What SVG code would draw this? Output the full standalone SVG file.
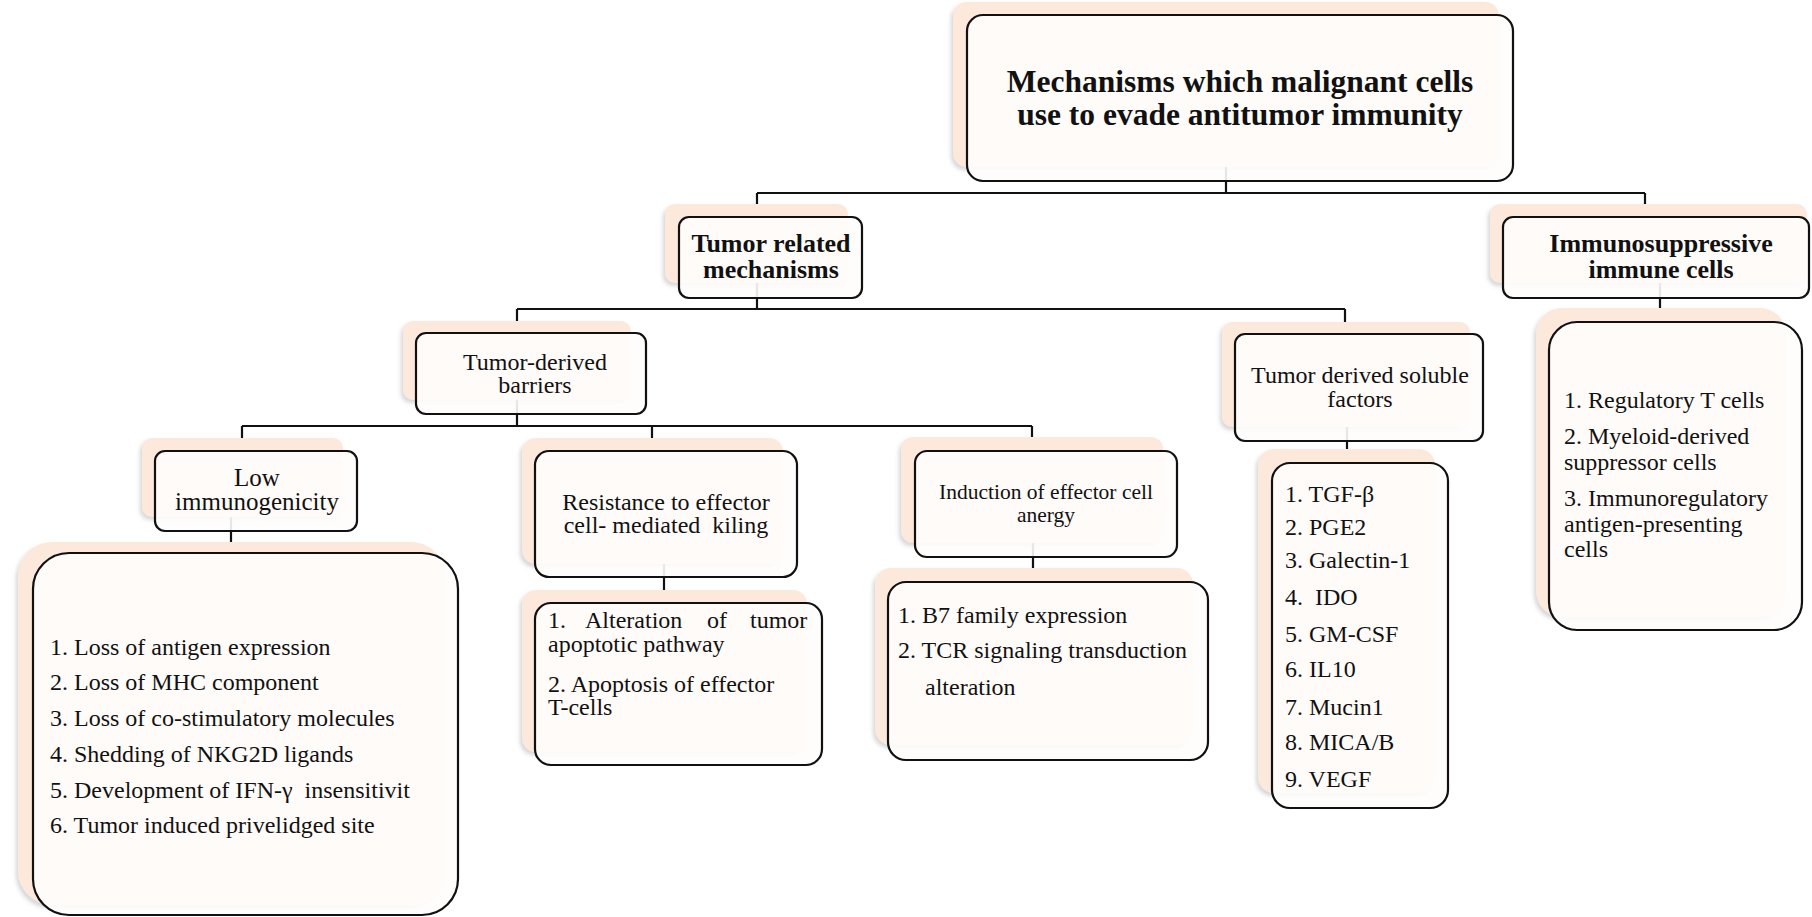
<svg xmlns="http://www.w3.org/2000/svg" width="1812" height="917" viewBox="0 0 1812 917">
<defs>
<filter id="sh" x="-10%" y="-10%" width="120%" height="125%">
<feDropShadow dx="-2" dy="3" stdDeviation="2" flood-color="#888" flood-opacity="0.35"/>
</filter>
<style>
.bk{fill:#fce9dc;filter:url(#sh);}
.fr{fill:#fffdfc;fill-opacity:0.9;stroke:#111;stroke-width:2.2;}
.cn{stroke:#111;stroke-width:2.2;fill:none;}
.t{font-family:"Liberation Serif","Times New Roman",serif;fill:#111;}
.b{font-weight:bold;font-size:26px;text-anchor:middle;}
.m{font-size:24px;text-anchor:middle;}
.l{font-size:24px;}
</style>
</defs>
<rect width="1812" height="917" fill="#fff"/>
<g id="connectors">
<path class="cn" d="M1226,167 V193 M757,193 H1645 M757,193 V204 M1645,193 V204"/>
<path class="cn" d="M757,283 V309 M517,309 H1345 M517,309 V321 M1345,309 V322"/>
<path class="cn" d="M1660,283 V308"/>
<path class="cn" d="M517,400 V426 M242,426 H1032 M242,426 V438 M652,426 V438 M1032,426 V437"/>
<path class="cn" d="M231,517 V542 M664,564 V590 M1033,543 V568 M1347,427 V449"/>
</g>
<g id="title">
<rect class="bk" x="953" y="2" width="546" height="165" rx="14"/>
<rect class="fr" x="967" y="15" width="546" height="166" rx="16"/>
<text class="t b" style="font-size:31.5px" x="1240" y="92">Mechanisms which malignant cells</text>
<text class="t b" style="font-size:31.5px" x="1240" y="125">use to evade antitumor immunity</text>
</g>
<g id="tumor-related">
<rect class="bk" x="665" y="204" width="183" height="79" rx="10"/>
<rect class="fr" x="679" y="217" width="183" height="81" rx="10"/>
<text class="t b" x="771" y="252">Tumor related</text>
<text class="t b" x="771" y="278">mechanisms</text>
</g>
<g id="immunosuppressive">
<rect class="bk" x="1490" y="204" width="317" height="79" rx="10"/>
<rect class="fr" x="1503" y="217" width="306" height="81" rx="10"/>
<text class="t b" x="1661" y="252">Immunosuppressive</text>
<text class="t b" x="1661" y="278">immune cells</text>
</g>
<g id="regulatory-list">
<rect class="bk" x="1536" y="308" width="250" height="309" rx="26"/>
<rect class="fr" x="1549" y="322" width="253" height="308" rx="28"/>
<text class="t l" x="1564" y="408">1. Regulatory T cells</text>
<text class="t l" x="1564" y="444">2. Myeloid-derived</text>
<text class="t l" x="1564" y="470">suppressor cells</text>
<text class="t l" x="1564" y="506">3. Immunoregulatory</text>
<text class="t l" x="1564" y="532">antigen-presenting</text>
<text class="t l" x="1564" y="557">cells</text>
</g>
<g id="tumor-derived-barriers">
<rect class="bk" x="403" y="321" width="228" height="79" rx="10"/>
<rect class="fr" x="416" y="333" width="230" height="81" rx="10"/>
<text class="t m" x="535" y="370">Tumor-derived</text>
<text class="t m" x="535" y="393">barriers</text>
</g>
<g id="soluble-factors">
<rect class="bk" x="1222" y="322" width="248" height="105" rx="10"/>
<rect class="fr" x="1235" y="334" width="248" height="107" rx="10"/>
<text class="t m" x="1360" y="383">Tumor derived soluble</text>
<text class="t m" x="1360" y="407">factors</text>
</g>
<g id="soluble-list">
<rect class="bk" x="1258" y="449" width="177" height="344" rx="16"/>
<rect class="fr" x="1272" y="463" width="176" height="345" rx="18"/>
<text class="t l" x="1285" y="502">1. TGF-β</text>
<text class="t l" x="1285" y="535">2. PGE2</text>
<text class="t l" x="1285" y="568">3. Galectin-1</text>
<text class="t l" x="1285" y="605" xml:space="preserve">4.  IDO</text>
<text class="t l" x="1285" y="642">5. GM-CSF</text>
<text class="t l" x="1285" y="677">6. IL10</text>
<text class="t l" x="1285" y="715">7. Mucin1</text>
<text class="t l" x="1285" y="750">8. MICA/B</text>
<text class="t l" x="1285" y="787">9. VEGF</text>
</g>
<g id="low-immunogenicity">
<rect class="bk" x="142" y="438" width="201" height="79" rx="10"/>
<rect class="fr" x="155" y="451" width="202" height="80" rx="10"/>
<text class="t m" style="font-size:25px" x="257" y="486">Low</text>
<text class="t m" style="font-size:25px" x="257" y="510">immunogenicity</text>
</g>
<g id="low-list">
<rect class="bk" x="18" y="542" width="427" height="363" rx="34"/>
<rect class="fr" x="33" y="553" width="425" height="362" rx="36"/>
<text class="t l" x="50" y="655">1. Loss of antigen expression</text>
<text class="t l" x="50" y="690">2. Loss of MHC component</text>
<text class="t l" x="50" y="726">3. Loss of co-stimulatory molecules</text>
<text class="t l" x="50" y="762">4. Shedding of NKG2D ligands</text>
<text class="t l" x="50" y="798" xml:space="preserve">5. Development of IFN-γ  insensitivit</text>
<text class="t l" x="50" y="833">6. Tumor induced privelidged site</text>
</g>
<g id="resistance">
<rect class="bk" x="522" y="438" width="261" height="126" rx="14"/>
<rect class="fr" x="535" y="451" width="262" height="126" rx="14"/>
<text class="t m" x="666" y="510">Resistance to effector</text>
<text class="t m" x="666" y="533" xml:space="preserve">cell- mediated  kiling</text>
</g>
<g id="resistance-list">
<rect class="bk" x="522" y="590" width="285" height="162" rx="14"/>
<rect class="fr" x="535" y="603" width="287" height="162" rx="16"/>
<text class="t l" y="628"><tspan x="548">1.</tspan><tspan x="585">Alteration</tspan><tspan x="707">of</tspan><tspan x="750">tumor</tspan></text>
<text class="t l" x="548" y="652">apoptotic pathway</text>
<text class="t l" x="548" y="692">2. Apoptosis of effector</text>
<text class="t l" x="548" y="715">T-cells</text>
</g>
<g id="induction">
<rect class="bk" x="901" y="437" width="262" height="106" rx="12"/>
<rect class="fr" x="915" y="451" width="262" height="106" rx="12"/>
<text class="t m" style="font-size:21.5px" x="1046" y="499">Induction of effector cell</text>
<text class="t m" style="font-size:21.5px" x="1046" y="522">anergy</text>
</g>
<g id="induction-list">
<rect class="bk" x="875" y="568" width="318" height="177" rx="16"/>
<rect class="fr" x="888" y="582" width="320" height="178" rx="18"/>
<text class="t l" x="898" y="623">1. B7 family expression</text>
<text class="t l" x="898" y="658">2. TCR signaling transduction</text>
<text class="t l" x="925" y="695">alteration</text>
</g>
</svg>
